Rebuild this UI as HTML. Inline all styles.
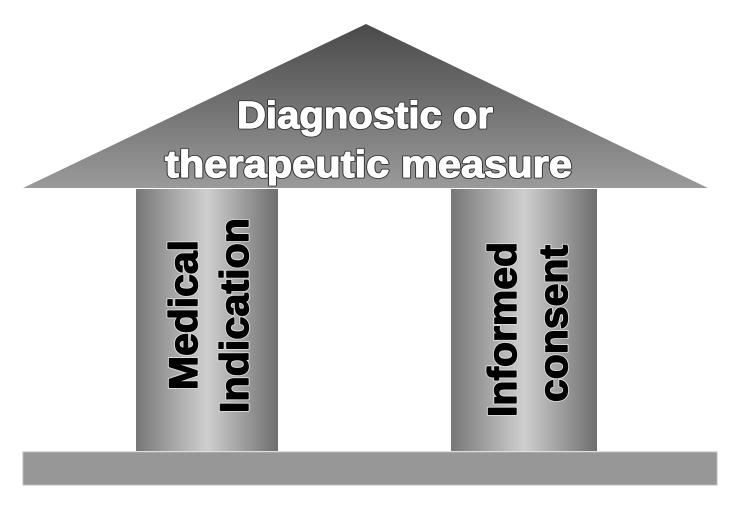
<!DOCTYPE html>
<html><head><meta charset="utf-8"><style>html,body{margin:0;padding:0;background:#fff}svg{display:block}
text{font-family:"Liberation Sans",sans-serif;font-weight:700}
.r{font-size:38px}
.ro{fill:#333;stroke:#333;stroke-width:3px;stroke-linejoin:round}
.rf{fill:#fff;stroke:#fff;stroke-width:1.2px;stroke-linejoin:round}
.p{font-size:40px}
.po{fill:#ddd;stroke:#ddd;stroke-width:3.2px;stroke-linejoin:round}
.pf{fill:#000;stroke:#000;stroke-width:1.4px;stroke-linejoin:round}
</style></head>
<body>
<svg width="740" height="510" viewBox="0 0 740 510" xmlns="http://www.w3.org/2000/svg">
<defs>
<linearGradient id="roof" x1="0" y1="0" x2="0" y2="1">
<stop offset="0" stop-color="#4a4a4a"/><stop offset="1" stop-color="#9a9a9a"/>
</linearGradient>
<linearGradient id="col" x1="0" y1="0" x2="1" y2="0">
<stop offset="0" stop-color="#777"/><stop offset="0.5" stop-color="#cfcfcf"/><stop offset="1" stop-color="#6e6e6e"/>
</linearGradient>
</defs>
<polygon points="366,24 23,188 708,188" fill="url(#roof)"/>
<rect x="136" y="189" width="142" height="262" fill="url(#col)"/>
<rect x="451" y="189" width="146" height="262" fill="url(#col)"/>
<rect x="23" y="452" width="694" height="33" fill="#979797" stroke="#bbb" stroke-width="1"/>

<text class="r ro" x="237" y="128" textLength="256" lengthAdjust="spacingAndGlyphs">Diagnostic or</text>
<text class="r ro" x="165" y="177" textLength="407" lengthAdjust="spacingAndGlyphs">therapeutic measure</text>
<text class="r rf" x="237" y="128" textLength="256" lengthAdjust="spacingAndGlyphs">Diagnostic or</text>
<text class="r rf" x="165" y="177" textLength="407" lengthAdjust="spacingAndGlyphs">therapeutic measure</text>

<text class="p po" transform="translate(197,390) rotate(-90)" textLength="150" lengthAdjust="spacingAndGlyphs">Medical</text>
<text class="p po" transform="translate(248,413) rotate(-90)" textLength="195" lengthAdjust="spacingAndGlyphs">Indication</text>
<text class="p po" transform="translate(516,417) rotate(-90)" textLength="175" lengthAdjust="spacingAndGlyphs">Informed</text>
<text class="p po" transform="translate(567,402) rotate(-90)" textLength="157" lengthAdjust="spacingAndGlyphs">consent</text>
<text class="p pf" transform="translate(197,390) rotate(-90)" textLength="150" lengthAdjust="spacingAndGlyphs">Medical</text>
<text class="p pf" transform="translate(248,413) rotate(-90)" textLength="195" lengthAdjust="spacingAndGlyphs">Indication</text>
<text class="p pf" transform="translate(516,417) rotate(-90)" textLength="175" lengthAdjust="spacingAndGlyphs">Informed</text>
<text class="p pf" transform="translate(567,402) rotate(-90)" textLength="157" lengthAdjust="spacingAndGlyphs">consent</text>
</svg>
</body></html>
